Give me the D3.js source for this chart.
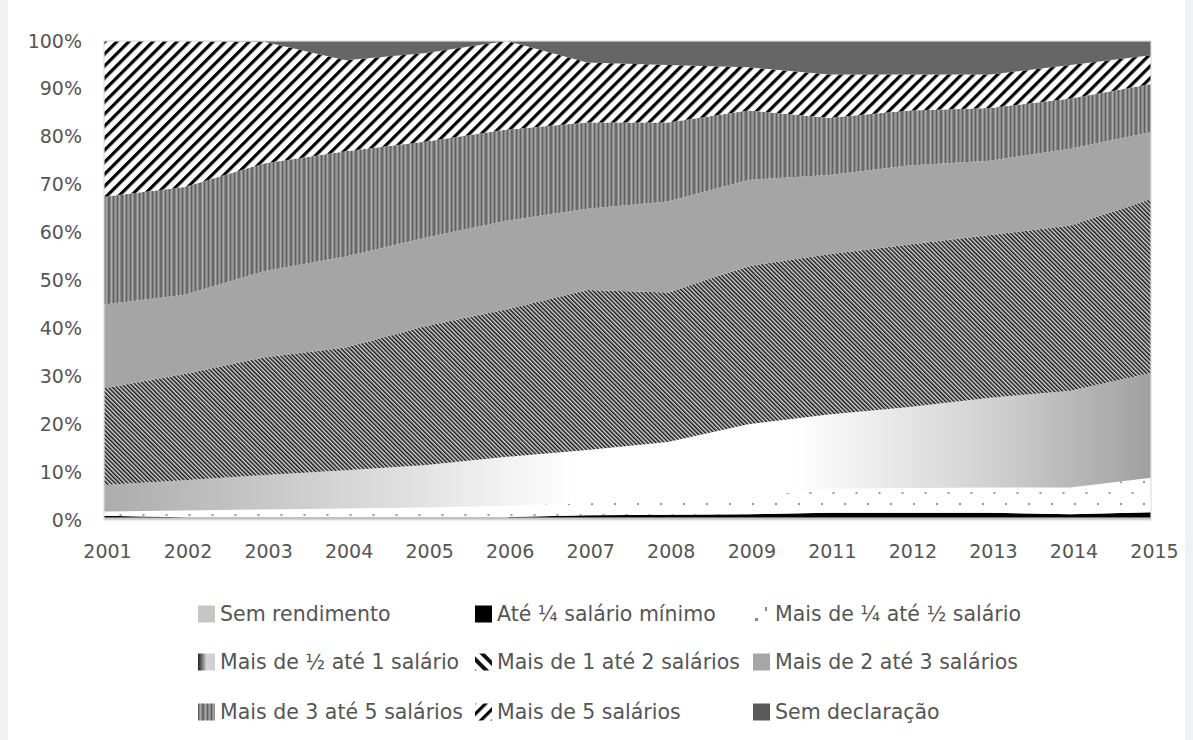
<!DOCTYPE html>
<html lang="pt">
<head>
<meta charset="utf-8">
<title>Distribuição por classes de rendimento, 2001–2015</title>
<script src="https://cdn.jsdelivr.net/npm/d3@7/dist/d3.min.js"></script>
<style>
  html, body { margin: 0; padding: 0; background: #eef2f3; }
  svg { display: block; }
  text { font-family: "DejaVu Sans", sans-serif; fill: #555555; }
</style>
</head>
<body>
<svg id="chart" width="1193" height="740"></svg>
<script>
// Anos da série (2010 sem pesquisa)
const years = ["2001","2002","2003","2004","2005","2006","2007","2008","2009","2011","2012","2013","2014","2015"];

const seriesNames = [
  "Sem rendimento",
  "Até ¼ salário mínimo",
  "Mais de ¼ até ½ salário",
  "Mais de ½ até 1 salário",
  "Mais de 1 até 2 salários",
  "Mais de 2 até 3 salários",
  "Mais de 3 até 5 salários",
  "Mais de 5 salários",
  "Sem declaração"
];

// Participação (%) de cada classe em cada ano
const semRendimento  = [0.5, 0.5, 0.5, 0.5, 0.5, 0.5, 0.5, 0.5, 0.5, 0.5, 0.5, 0.5, 0.5, 0.5];
const ateUmQuarto    = [0.4, 0.1, 0.1, 0.1, 0.1, 0.1, 0.5, 0.6, 0.7, 1.0, 1.0, 1.0, 0.7, 1.1];
const quartoAteMeio  = [0.9, 1.4, 1.6, 1.8, 2.0, 2.4, 2.5, 2.9, 3.6, 5.0, 5.2, 5.3, 5.6, 7.2];
const meioAteUm      = [5.5, 6.3, 7.2, 8.0, 8.9, 10.2, 11.1, 12.3, 15.2, 15.5, 16.9, 18.7, 20.2, 21.9];
const umAteDois      = [20.2, 22.2, 24.6, 25.6, 29.0, 30.8, 33.4, 31.2, 33.0, 33.5, 33.9, 34.0, 34.5, 36.3];
const doisAteTres    = [17.5, 16.5, 18.0, 19.0, 18.5, 18.5, 17.0, 19.0, 18.0, 16.5, 16.5, 15.5, 16.0, 14.0];
const tresAteCinco   = [22.5, 22.5, 22.5, 22.0, 20.0, 19.0, 18.0, 16.5, 14.5, 12.0, 11.5, 11.0, 10.5, 10.0];
const maisDeCinco    = [32.5, 30.5, 25.3, 19.0, 18.5, 18.5, 12.5, 12.0, 9.0, 9.0, 7.5, 7.0, 7.0, 6.0];
const semDeclaracao  = [0.0, 0.0, 0.2, 4.0, 2.5, 0.0, 4.5, 5.0, 5.5, 7.0, 7.0, 7.0, 5.0, 3.0];

const yTicks = [0, 0.1, 0.2, 0.3, 0.4, 0.5, 0.6, 0.7, 0.8, 0.9, 1.0];

const seriesValues = [semRendimento, ateUmQuarto, quartoAteMeio, meioAteUm, umAteDois,
                      doisAteTres, tresAteCinco, maisDeCinco, semDeclaracao];

const rows = years.map((yr, i) => {
  const r = { year: yr };
  seriesNames.forEach((n, k) => { r[n] = seriesValues[k][i]; });
  return r;
});

const svg = d3.select("#chart");
const W = 1193, H = 740;
const plot = { left: 104, right: 1151, top: 41, bottom: 520 };

// fundo branco do quadro
svg.append("rect").attr("x", 8).attr("y", 0).attr("width", W - 16).attr("height", H).attr("fill", "#ffffff");

const x = d3.scalePoint().domain(years).range([plot.left, plot.right]);
const y = d3.scaleLinear().domain([0, 1]).range([plot.bottom, plot.top]);

const stacked = d3.stack().keys(seriesNames).offset(d3.stackOffsetExpand)(rows);

// ---------- padrões de preenchimento ----------
const defs = svg.append("defs");

// pontos esparsos
const pDots = defs.append("pattern").attr("id", "pDots")
  .attr("patternUnits", "userSpaceOnUse").attr("x", plot.left).attr("y", plot.bottom)
  .attr("width", 23).attr("height", 22);
pDots.append("rect").attr("width", 23).attr("height", 22).attr("fill", "#ffffff");
pDots.append("rect").attr("x", 4).attr("y", 5).attr("width", 2).attr("height", 2).attr("fill", "#8f9aa3");
pDots.append("rect").attr("x", 15.5).attr("y", 16).attr("width", 2).attr("height", 2).attr("fill", "#8f9aa3");

// degradê cinza-branco-cinza
const gGrad = defs.append("linearGradient").attr("id", "gGrad")
  .attr("gradientUnits", "userSpaceOnUse")
  .attr("x1", plot.left).attr("x2", plot.right).attr("y1", 0).attr("y2", 0);
[[0, "#acacac"], [0.3, "#e2e2e2"], [0.45, "#ffffff"], [0.66, "#ffffff"], [0.85, "#d0d0d0"], [1, "#a0a0a0"]]
  .forEach(([o, c]) => gGrad.append("stop").attr("offset", o).attr("stop-color", c));

// degradê da legenda
const gLeg = defs.append("linearGradient").attr("id", "gLeg");
[[0, "#202020"], [0.3, "#8a8a8a"], [0.5, "#d4d4d4"], [1, "#cfcfcf"]]
  .forEach(([o, c]) => gLeg.append("stop").attr("offset", o).attr("stop-color", c));

// diagonal fina e densa
const pFine = defs.append("pattern").attr("id", "pFine")
  .attr("patternUnits", "userSpaceOnUse").attr("width", 3).attr("height", 3)
  .attr("patternTransform", "rotate(-45)");
pFine.append("rect").attr("width", 3).attr("height", 3).attr("fill", "#d6d6d6");
pFine.append("rect").attr("width", 1.5).attr("height", 3).attr("fill", "#141414");

// listras verticais irregulares
const pVert = defs.append("pattern").attr("id", "pVert")
  .attr("patternUnits", "userSpaceOnUse").attr("width", 13).attr("height", 10);
pVert.append("rect").attr("width", 13).attr("height", 10).attr("fill", "#898989");
[[0, 1, "#5e5e5e"], [2, 1, "#a8a8a8"], [4, 2, "#6a6a6a"], [7, 1, "#b0b0b0"], [9, 1, "#606060"], [11, 1, "#9a9a9a"]]
  .forEach(([px, w, c]) => pVert.append("rect").attr("x", px).attr("width", w).attr("height", 10).attr("fill", c));

// diagonal larga
const pWide = defs.append("pattern").attr("id", "pWide")
  .attr("patternUnits", "userSpaceOnUse").attr("width", 8.5).attr("height", 8.5)
  .attr("patternTransform", "rotate(45)");
pWide.append("rect").attr("width", 8.5).attr("height", 8.5).attr("fill", "#ffffff");
pWide.append("rect").attr("width", 3.2).attr("height", 8.5).attr("fill", "#000000");

// diagonal da legenda (1 a 2 salários)
const pLeg12 = defs.append("pattern").attr("id", "pLeg12")
  .attr("patternUnits", "userSpaceOnUse").attr("width", 9).attr("height", 9)
  .attr("patternTransform", "rotate(-45)");
pLeg12.append("rect").attr("width", 9).attr("height", 9).attr("fill", "#ffffff");
pLeg12.append("rect").attr("width", 4).attr("height", 9).attr("fill", "#111111");

const fills = ["#c6c6c6", "#000000", "url(#pDots)", "url(#gGrad)", "url(#pFine)",
               "#a5a5a5", "url(#pVert)", "url(#pWide)", "#666666"];

// ---------- áreas ----------
const area = d3.area()
  .x(d => x(d.data.year))
  .y0(d => y(d[0]))
  .y1(d => y(d[1]));

svg.append("g").selectAll("path")
  .data(stacked)
  .join("path")
  .attr("d", area)
  .attr("fill", (d, i) => fills[i]);

// borda da área de plotagem
svg.append("rect")
  .attr("x", plot.left).attr("y", plot.top)
  .attr("width", plot.right - plot.left).attr("height", plot.bottom - plot.top)
  .attr("fill", "none").attr("stroke", "#dedede").attr("stroke-width", 1.2);

// ---------- eixos ----------
const axisFont = 19;
const legendFont = 20.5;

const yAxis = svg.append("g")
  .attr("transform", `translate(${plot.left},0)`)
  .call(d3.axisLeft(y).tickValues(yTicks).tickFormat(d3.format(".0%")).tickSize(0).tickPadding(22));
yAxis.select(".domain").remove();
yAxis.selectAll("text").attr("font-size", axisFont).attr("font-family", "DejaVu Sans").attr("fill", "#555555");

const xAxis = svg.append("g")
  .attr("transform", `translate(3,${plot.bottom})`)
  .call(d3.axisBottom(x).tickSize(0).tickPadding(25));
xAxis.select(".domain").remove();
xAxis.selectAll("text").attr("font-size", axisFont).attr("font-family", "DejaVu Sans").attr("fill", "#555555");

// ---------- legenda ----------
const legendCols = [198, 475, 753];
const legendRows = [614, 662, 712];
const legendFills = ["#c6c6c6", "#000000", null, "url(#gLeg)", "url(#pLeg12)",
                     "#a6a6a6", "url(#pVert)", "url(#pWide)", "#595959"];

const legend = svg.append("g");
seriesNames.forEach((name, i) => {
  const cx = legendCols[i % 3];
  const cy = legendRows[Math.floor(i / 3)];
  const g = legend.append("g").attr("transform", `translate(${cx},${cy})`);
  if (i === 2) {
    // marcador de pontos
    g.append("rect").attr("x", 2).attr("y", 4).attr("width", 3).attr("height", 3).attr("fill", "#8a8a8a");
    g.append("rect").attr("x", 12).attr("y", -7).attr("width", 2).attr("height", 4).attr("fill", "#8a8a8a");
  } else {
    g.append("rect").attr("x", 0).attr("y", -8.5).attr("width", 17).attr("height", 17)
      .attr("fill", legendFills[i]);
  }
  g.append("text")
    .attr("x", 22).attr("y", 0).attr("dy", "0.36em")
    .attr("font-size", legendFont)
    .text(name);
});
</script>
</body>
</html>
